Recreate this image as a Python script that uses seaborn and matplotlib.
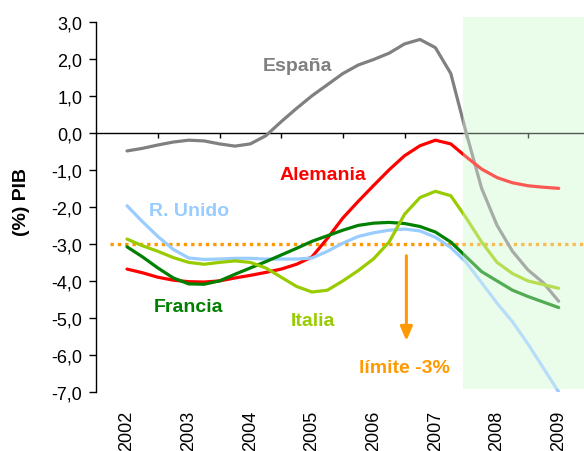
import numpy as np
import pandas as pd
import matplotlib
matplotlib.use("Agg")
import matplotlib.pyplot as plt
import seaborn as sns
from matplotlib.ticker import FuncFormatter

# ---- data (quarterly points) ----
years = [2002.00, 2002.25, 2002.50, 2002.75, 2003.00, 2003.25, 2003.50, 2003.75,
         2004.00, 2004.25, 2004.50, 2004.75, 2005.00, 2005.25, 2005.50, 2005.75,
         2006.00, 2006.25, 2006.50, 2006.75, 2007.00, 2007.25, 2007.50, 2007.75,
         2008.00, 2008.25, 2008.50, 2008.75, 2009.00]

espana = [-0.49, -0.42, -0.33, -0.25, -0.20, -0.22, -0.30, -0.36,
          -0.30, -0.08, 0.30, 0.66, 1.00, 1.30, 1.60, 1.83,
          1.98, 2.15, 2.40, 2.52, 2.30, 1.60, 0.00, -1.50,
          -2.50, -3.20, -3.70, -4.05, -4.55]

alemania = [-3.68, -3.78, -3.90, -3.98, -4.02, -4.03, -4.00, -3.92,
            -3.85, -3.77, -3.68, -3.55, -3.35, -2.85, -2.30, -1.85,
            -1.42, -1.00, -0.62, -0.35, -0.20, -0.30, -0.65, -0.98,
            -1.21, -1.35, -1.43, -1.47, -1.50]

r_unido = [-1.97, -2.40, -2.80, -3.15, -3.38, -3.42, -3.41, -3.39,
           -3.39, -3.41, -3.41, -3.41, -3.38, -3.20, -2.98, -2.80,
           -2.70, -2.63, -2.60, -2.65, -2.82, -3.10, -3.50, -4.05,
           -4.60, -5.10, -5.70, -6.35, -7.00]

francia = [-3.08, -3.35, -3.65, -3.92, -4.08, -4.09, -4.00, -3.82,
           -3.65, -3.48, -3.30, -3.12, -2.93, -2.78, -2.63, -2.50,
           -2.44, -2.42, -2.45, -2.53, -2.68, -2.95, -3.35, -3.75,
           -4.00, -4.25, -4.42, -4.57, -4.72]

italia = [-2.87, -3.05, -3.20, -3.37, -3.50, -3.55, -3.50, -3.46,
          -3.50, -3.65, -3.90, -4.15, -4.30, -4.25, -4.00, -3.72,
          -3.40, -2.95, -2.20, -1.75, -1.58, -1.70, -2.30, -2.95,
          -3.50, -3.80, -4.00, -4.10, -4.20]

tick_years = [2002, 2003, 2004, 2005, 2006, 2007, 2008, 2009]
tick_labels = ["2002", "2003", "2004", "2005", "2006", "2007", "2008", "2009"]
y_ticks = [3, 2, 1, 0, -1, -2, -3, -4, -5, -6, -7]
limit_value = -3.0
forecast_start = 2007.45

series_names = ["España", "Alemania", "R. Unido", "Francia", "Italia"]
series_values = [espana, alemania, r_unido, francia, italia]
colors = {"España": "#808080", "Alemania": "#ff0000", "R. Unido": "#99ccff",
          "Francia": "#008000", "Italia": "#99cc00"}
orange = "#ff9900"

df = pd.DataFrame({
    "year": np.tile(years, len(series_names)),
    "valor": np.concatenate(series_values),
    "pais": np.repeat(series_names, len(years)),
})

# ---- styling ----
sns.set_theme(style="white")
plt.rcParams["font.family"] = ["Liberation Sans", "DejaVu Sans"]

fig = plt.figure(figsize=(5.84, 4.52), dpi=100)
ax = fig.add_axes([0.1647, 0.1305, 1.0 - 0.1647, 0.9498 - 0.1305])

x_left, x_right = 2001.5, 2009.41
ax.set_xlim(x_left, x_right)
ax.set_ylim(-7.0, 3.0)

# forecast shading
ax.axvspan(forecast_start, x_right, ymin=0.008, ymax=1.013,
           color="#e8fce8", zorder=0, clip_on=False, lw=0)

sns.lineplot(data=df, x="year", y="valor", hue="pais", palette=colors,
             hue_order=series_names, linewidth=2.3, legend=False, ax=ax,
             zorder=3)

# lighten the lines within the forecast region
ax.axvspan(forecast_start, x_right, ymin=0.008, ymax=1.0,
           color="#f0fff0", alpha=0.35, zorder=4, lw=0)

# -3% limit line
ax.hlines(limit_value, 2001.72, x_right, colors=orange, linewidth=2.4,
          linestyles=(0, (1, 1.2)), zorder=2)

# zero line with category ticks (secondary axis at y=0)
sec = ax.secondary_xaxis(0.7)
sec.set_xticks([y + 0.5 for y in tick_years[:-1]])
sec.tick_params(axis="x", direction="out", length=3.5, width=1,
                labelbottom=False, labeltop=False, bottom=True, top=False,
                color="black")
for s in ["top", "left", "right"]:
    sec.spines[s].set_visible(False)
sec.spines["bottom"].set_visible(True)
sec.spines["bottom"].set_color("black")
sec.spines["bottom"].set_linewidth(1.0)

# main axes spines
for s in ["top", "right", "bottom"]:
    ax.spines[s].set_visible(False)
ax.spines["left"].set_color("black")
ax.spines["left"].set_linewidth(1.0)

ax.set_yticks(y_ticks)
ax.yaxis.set_major_formatter(FuncFormatter(lambda v, p: f"{v:.1f}".replace(".", ",")))
ax.tick_params(axis="y", direction="out", length=5, width=1, left=True,
               labelsize=13, pad=5, colors="black")
ax.set_xticks(tick_years)
ax.set_xticklabels(tick_labels, rotation=90, fontsize=13)
ax.tick_params(axis="x", length=0, pad=13, colors="black")
ax.set_xlabel("")
ax.set_ylabel("")
ax.grid(False)

# labels for the series
lab_kw = dict(fontsize=14, fontweight="bold", ha="center", va="center", zorder=6)
ax.text(2004.77, 1.83, "España", color=colors["España"], **lab_kw)
ax.text(2005.18, -1.12, "Alemania", color=colors["Alemania"], **lab_kw)
ax.text(2003.00, -2.09, "R. Unido", color=colors["R. Unido"], **lab_kw)
ax.text(2003.00, -4.68, "Francia", color=colors["Francia"], **lab_kw)
ax.text(2005.02, -5.06, "Italia", color=colors["Italia"], **lab_kw)
ax.text(2006.50, -6.33, "límite -3%", color=orange, **lab_kw)

ax.annotate("", xy=(2006.53, -5.62), xytext=(2006.53, -3.32),
            arrowprops=dict(arrowstyle="-|>,head_length=0.7,head_width=0.3",
                            color=orange, lw=2.2, shrinkA=0, shrinkB=0),
            zorder=6)

fig.text(21 / 584, 1 - 202 / 452, "(%) PIB", rotation=90, fontsize=14,
         fontweight="bold", ha="center", va="center", color="black")

fig.savefig("out.png", dpi=100)
